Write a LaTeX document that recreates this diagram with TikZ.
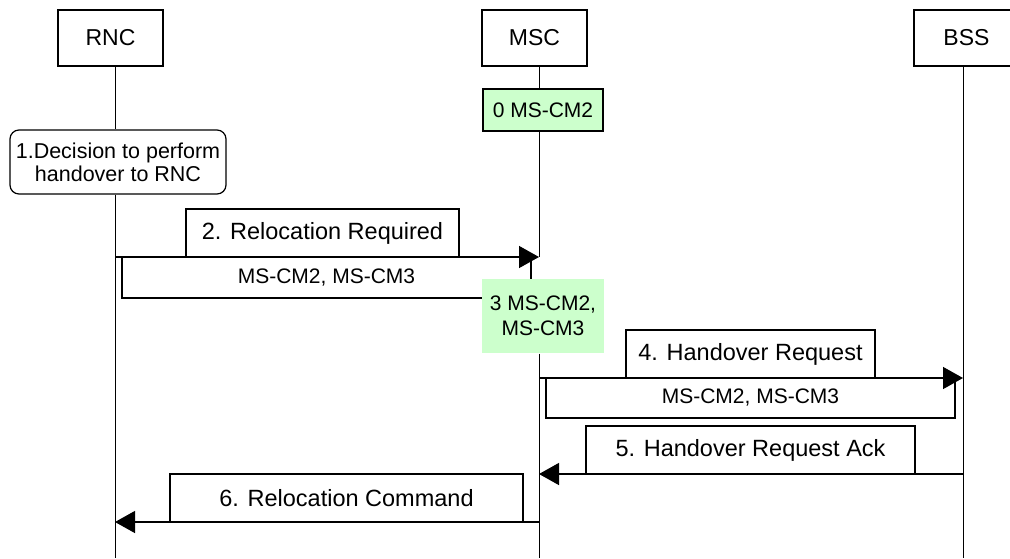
\documentclass[tikz,border=0pt]{standalone}
\usepackage{fontspec}
\setmainfont{Liberation Sans}
\usetikzlibrary{arrows.meta}
\definecolor{cmgreen}{HTML}{CCFFCC}

\begin{document}
\begin{tikzpicture}[x=1pt, y=-1pt, line width=1.2pt,
  entity/.style={draw, inner sep=0pt, minimum width=105pt, minimum height=56pt,
    font=\fontsize{23}{27}\selectfont},
  msgbox/.style={draw, fill=white, inner sep=0pt, minimum height=48pt,
    font=\fontsize{23.5}{27}\selectfont},
  parbox/.style={draw, fill=white, inner sep=0pt,
    font=\fontsize{21}{25}\selectfont},
  cmbox/.style={fill=cmgreen, inner sep=0pt, align=center,
    font=\fontsize{21}{25}\selectfont},
  lifeline/.style={line width=1pt},
  msg/.style={line width=1.4pt, -{Triangle[length=20pt,width=22pt]}}]

\useasboundingbox (0,0) rectangle (1010,558);

% Entities
\node[entity] (rnc) at (110.5,38) {RNC};
\node[entity] (msc) at (534.5,38) {MSC};
\node[entity] (bss) at (966.5,38) {BSS};

% Lifeline end points
\coordinate (rncend) at (115,558);
\coordinate (mscend) at (539,558);
\coordinate (bssend) at (963,558);

% Message end points on the lifelines
\coordinate (r2) at (115,257);
\coordinate (m2) at (539,257);
\coordinate (m4) at (539,378);
\coordinate (b4) at (963,378);
\coordinate (b5) at (963,474);
\coordinate (m5) at (539,474);
\coordinate (m6) at (539,522);
\coordinate (r6) at (115,522);

% Step 1 on the RNC
\node[draw, rounded corners=9pt, inner sep=0pt, minimum width=216pt, minimum height=64pt,
  align=center, font=\fontsize{21.5}{23}\selectfont] (decide) at (118,162)
  {1.Decision to perform\\handover to RNC};

% Step 0 on the MSC
\node[cmbox, draw, minimum width=120pt, minimum height=42pt] (cm0) at (543,110) {0 MS-CM2};

% Lifelines
\draw[lifeline] (rnc.south -| r2) -- (decide.north -| r2);
\draw[lifeline] (decide.south -| r2) -- (rncend);
\draw[lifeline] (msc.south -| m2) -- (cm0.north -| m2);
\draw[lifeline] (cm0.south -| m2) -- (m2);
\draw[lifeline] (bss.south -| b4) -- (bssend);

% 2. Relocation Required
\node[msgbox, minimum width=273pt] (req) at (322.5,233) {2. Relocation Required};
\node[parbox, minimum width=409pt, minimum height=41pt] (reqpar) at (326.5,277.5) {MS-CM2, MS-CM3};
\draw[msg] (r2) -- (m2);

% Step 3 on the MSC
\node[cmbox, minimum width=122pt, minimum height=74pt] (cm3) at (543,316) {3 MS-CM2,\\ MS-CM3};
\draw[lifeline] (cm3.south -| m2) -- (mscend);

% 4. Handover Request
\node[msgbox, minimum width=249pt] (ho) at (750.5,354) {4. Handover Request};
\node[parbox, minimum width=409pt, minimum height=40pt] (hopar) at (750.5,398) {MS-CM2, MS-CM3};
\draw[msg] (m4) -- (b4);

% 5. Handover Request Ack
\node[msgbox, minimum width=329pt] (hoack) at (750.5,450) {5. Handover Request Ack};
\draw[msg] (b5) -- (m5);

% 6. Relocation Command
\node[msgbox, minimum width=353pt] (cmd) at (346.5,498) {6. Relocation Command};
\draw[msg] (m6) -- (r6);

\end{tikzpicture}
\end{document}
